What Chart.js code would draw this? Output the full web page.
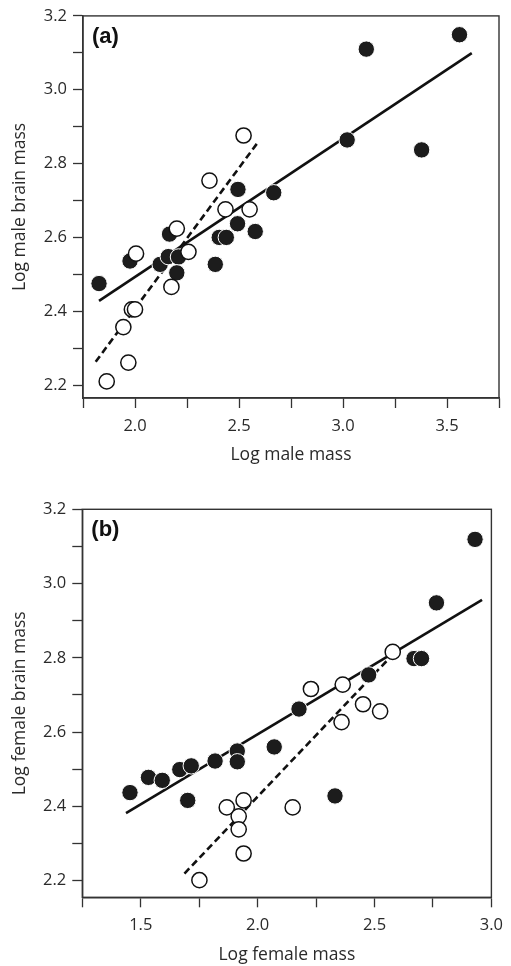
<!DOCTYPE html>
<html>
<head>
<meta charset="utf-8">
<script src="https://cdn.jsdelivr.net/npm/chart.js@4"></script>
<style>
  html, body { margin: 0; padding: 0; background: #fff; }
  body { width: 511px; height: 966px; position: relative; overflow: hidden; }
  #wa { position: absolute; left: 0; top: 0; width: 511px; height: 480px; }
  #wb { position: absolute; left: 0; top: 480px; width: 511px; height: 486px; }
</style>
</head>
<body>
<div id="wa"><canvas id="ca"></canvas></div>
<div id="wb"><canvas id="cb"></canvas></div>
<script>
// ---------- Panel (a): males ----------
const maleFilledX = [1.827, 1.976, 2.121, 2.166, 2.160, 2.209, 2.201, 2.386, 2.405, 2.439, 2.493, 2.495, 2.578, 2.667, 3.020, 3.112, 3.378, 3.560];
const maleFilledY = [2.475, 2.536, 2.527, 2.609, 2.548, 2.547, 2.504, 2.527, 2.600, 2.600, 2.637, 2.730, 2.616, 2.721, 2.864, 3.110, 2.837, 3.149];
const maleOpenX = [1.864, 1.944, 1.968, 1.985, 2.000, 2.005, 2.175, 2.201, 2.257, 2.358, 2.435, 2.551, 2.522];
const maleOpenY = [2.210, 2.357, 2.261, 2.405, 2.405, 2.556, 2.466, 2.624, 2.561, 2.754, 2.676, 2.676, 2.876];
const maleSolidLineX = [1.827, 3.619];
const maleSolidLineY = [2.428, 3.099];
const maleDashLineX = [1.811, 2.594];
const maleDashLineY = [2.263, 2.860];
const maleXTicks = [1.75, 2.0, 2.25, 2.5, 2.75, 3.0, 3.25, 3.5, 3.75];
const maleXLabels = [2.0, 2.5, 3.0, 3.5];
const maleYTicks = [2.2, 2.3, 2.4, 2.5, 2.6, 2.7, 2.8, 2.9, 3.0, 3.1, 3.2];
const maleYLabels = [2.2, 2.4, 2.6, 2.8, 3.0, 3.2];

// ---------- Panel (b): females ----------
const femFilledX = [1.454, 1.533, 1.592, 1.667, 1.701, 1.716, 1.818, 1.913, 1.913, 2.071, 2.177, 2.331, 2.475, 2.669, 2.701, 2.765, 2.930];
const femFilledY = [2.437, 2.478, 2.470, 2.499, 2.416, 2.509, 2.522, 2.549, 2.520, 2.560, 2.662, 2.428, 2.754, 2.798, 2.798, 2.948, 3.119];
const femOpenX = [1.751, 1.868, 1.919, 1.919, 1.940, 1.940, 2.150, 2.228, 2.359, 2.364, 2.451, 2.524, 2.578];
const femOpenY = [2.201, 2.397, 2.373, 2.338, 2.416, 2.273, 2.397, 2.716, 2.627, 2.728, 2.675, 2.656, 2.816];
const femSolidLineX = [1.437, 2.960];
const femSolidLineY = [2.382, 2.956];
const femDashLineX = [1.687, 2.580];
const femDashLineY = [2.219, 2.810];
const femXTicks = [1.25, 1.5, 1.75, 2.0, 2.25, 2.5, 2.75, 3.0];
const femXLabels = [1.5, 2.0, 2.5, 3.0];
const femYTicks = [2.2, 2.3, 2.4, 2.5, 2.6, 2.7, 2.8, 2.9, 3.0, 3.1, 3.2];
const femYLabels = [2.2, 2.4, 2.6, 2.8, 3.0, 3.2];

const FONT = '"Open Sans", "DejaVu Sans", sans-serif';
const AXIS_COLOR = '#333';
const TEXT_COLOR = '#2a2a2a';

function pts(xs, ys) { return xs.map((x, i) => ({ x: x, y: ys[i] })); }
function near(list, v) { return list.some(t => Math.abs(t - v) < 1e-6); }

const framePlugin = {
  id: 'frame',
  afterDatasetsDraw(chart, args, opts) {
    const a = chart.chartArea, c = chart.ctx;
    c.save();
    c.strokeStyle = AXIS_COLOR;
    c.lineWidth = 1.4;
    c.strokeRect(a.left, a.top, a.right - a.left, a.bottom - a.top);
    c.fillStyle = '#111';
    c.font = 'bold 22px "Liberation Sans", Arial, sans-serif';
    c.textBaseline = 'middle';
    c.textAlign = 'left';
    c.fillText(opts.label, a.left + opts.dx, a.top + opts.dy);
    c.restore();
  }
};

function makeChart(id, cfg) {
  return new Chart(document.getElementById(id), {
    type: 'scatter',
    data: {
      datasets: [
        { type: 'line', data: pts(cfg.solidX, cfg.solidY), borderColor: '#111', borderWidth: 2.6, pointRadius: 0, fill: false, order: 4 },
        { type: 'line', data: pts(cfg.dashX, cfg.dashY), borderColor: '#111', borderWidth: 2.6, borderDash: [7, 4], pointRadius: 0, fill: false, order: 3 },
        { data: pts(cfg.filledX, cfg.filledY), backgroundColor: '#1c1c1c', borderColor: '#fff', borderWidth: 1, pointRadius: 8.2, order: 2 },
        { data: pts(cfg.openX, cfg.openY), backgroundColor: '#fff', borderColor: '#111', borderWidth: 1.5, pointRadius: 7.6, order: 1 }
      ]
    },
    options: {
      responsive: true,
      maintainAspectRatio: false,
      animation: false,
      events: [],
      layout: { padding: cfg.padding },
      plugins: { legend: { display: false }, tooltip: { enabled: false }, frame: { label: cfg.label, dx: 9, dy: 21 } },
      scales: {
        x: {
          type: 'linear', min: cfg.xMin, max: cfg.xMax,
          afterBuildTicks: s => { s.ticks = cfg.xTicks.map(v => ({ value: v })); },
          afterFit: s => { s.height = cfg.xAxisH; },
          grid: { drawOnChartArea: false, drawTicks: true, tickLength: 10, tickColor: AXIS_COLOR, tickWidth: 1.3 },
          border: { display: true, color: AXIS_COLOR, width: 1.4 },
          ticks: { autoSkip: false, maxRotation: 0, padding: 8, color: TEXT_COLOR, font: { family: FONT, size: 16.5 },
                   callback: v => near(cfg.xLabels, v) ? v.toFixed(1) : '' },
          title: { display: true, text: cfg.xTitle, color: TEXT_COLOR, font: { family: FONT, size: 17.5 }, padding: { top: 0, bottom: cfg.xTitlePad } }
        },
        y: {
          type: 'linear', min: cfg.yMin, max: cfg.yMax,
          afterBuildTicks: s => { s.ticks = cfg.yTicks.map(v => ({ value: v })); },
          afterFit: s => { s.width = cfg.yAxisW; },
          grid: { drawOnChartArea: false, drawTicks: true, tickLength: 10, tickColor: AXIS_COLOR, tickWidth: 1.3 },
          border: { display: true, color: AXIS_COLOR, width: 1.4 },
          ticks: { autoSkip: false, padding: 6, color: TEXT_COLOR, font: { family: FONT, size: 16.5 },
                   callback: v => near(cfg.yLabels, v) ? v.toFixed(1) : '' },
          title: { display: true, text: cfg.yTitle, color: TEXT_COLOR, font: { family: FONT, size: 17.5 }, padding: { top: 9.5, bottom: 0 } }
        }
      }
    },
    plugins: [framePlugin]
  });
}

makeChart('ca', {
  label: '(a)',
  filledX: maleFilledX, filledY: maleFilledY, openX: maleOpenX, openY: maleOpenY,
  solidX: maleSolidLineX, solidY: maleSolidLineY, dashX: maleDashLineX, dashY: maleDashLineY,
  xMin: 1.75, xMax: 3.75, yMin: 2.165, yMax: 3.2,
  xTicks: maleXTicks, xLabels: maleXLabels, yTicks: maleYTicks, yLabels: maleYLabels,
  xTitle: 'Log male mass', yTitle: 'Log male brain mass',
  padding: { left: 0, right: 12, top: 15, bottom: 0 },
  xAxisH: 82, yAxisW: 83, xTitlePad: 14
});

makeChart('cb', {
  label: '(b)',
  filledX: femFilledX, filledY: femFilledY, openX: femOpenX, openY: femOpenY,
  solidX: femSolidLineX, solidY: femSolidLineY, dashX: femDashLineX, dashY: femDashLineY,
  xMin: 1.25, xMax: 3.0, yMin: 2.155, yMax: 3.2,
  xTicks: femXTicks, xLabels: femXLabels, yTicks: femYTicks, yLabels: femYLabels,
  xTitle: 'Log female mass', yTitle: 'Log female brain mass',
  padding: { left: 0, right: 14.3, top: 29.3, bottom: 0 },
  xAxisH: 68.7, yAxisW: 82.3, xTitlePad: 0
});
</script>
</body>
</html>
